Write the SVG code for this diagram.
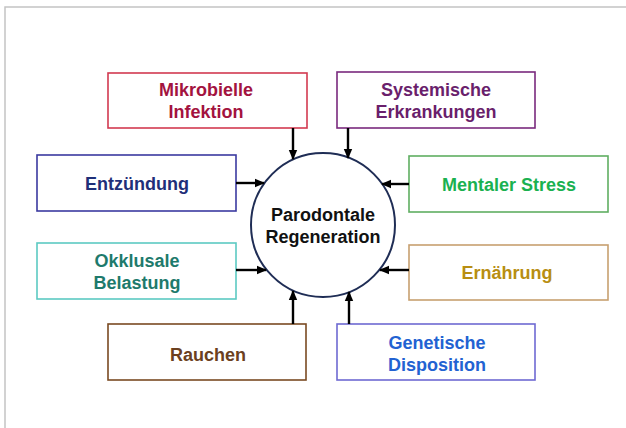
<svg xmlns="http://www.w3.org/2000/svg" width="626" height="428" viewBox="0 0 626 428">
<style>
.box{fill:#fff;stroke-width:1.6}
.t{font-family:"Liberation Sans",Arial,sans-serif;font-weight:bold;font-size:18px;text-anchor:middle}
.c{stroke:#000;stroke-width:2.4;fill:none;marker-end:url(#ah)}
</style>
<defs>
<marker id="ah" markerUnits="userSpaceOnUse" markerWidth="10" markerHeight="10" refX="9" refY="5" orient="auto">
<path d="M0,0.8 L10,5 L0,9.2 z" fill="#000"/>
</marker>
</defs>
<rect width="626" height="428" fill="#fff"/>
<path d="M5,428 V7 H626" fill="none" stroke="#c4c4c4" stroke-width="1.5"/>
<g id="center">
<circle cx="323" cy="225" r="72" fill="#fff" stroke="#1f2d55" stroke-width="2"/>
<text class="t" x="323" y="221" fill="#111">Parodontale</text>
<text class="t" x="323" y="243" fill="#111">Regeneration</text>
</g>
<g id="mikrobielle">
<rect class="box" x="108" y="73" width="199" height="55" stroke="#d23a50"/>
<text class="t" x="206" y="96" fill="#a3133f">Mikrobielle</text>
<text class="t" x="206" y="118" fill="#a3133f">Infektion</text>
</g>
<g id="systemische">
<rect class="box" x="337" y="72" width="198" height="56" stroke="#7a2a7e"/>
<text class="t" x="436" y="96" fill="#6a1f6c">Systemische</text>
<text class="t" x="436" y="118" fill="#6a1f6c">Erkrankungen</text>
</g>
<g id="entzuendung">
<rect class="box" x="37" y="155" width="199" height="56" stroke="#3b3aa0"/>
<text class="t" x="137" y="190" fill="#1f2f78">Entzündung</text>
</g>
<g id="mentaler">
<rect class="box" x="409" y="156" width="199" height="56" stroke="#5fae62"/>
<text class="t" x="509" y="191" fill="#1ab150">Mentaler Stress</text>
</g>
<g id="okklusale">
<rect class="box" x="37" y="243" width="199" height="56" stroke="#5ccac2"/>
<text class="t" x="137" y="266.5" fill="#1e7a6c">Okklusale</text>
<text class="t" x="137" y="288.5" fill="#1e7a6c">Belastung</text>
</g>
<g id="ernaehrung">
<rect class="box" x="409" y="245" width="199" height="55" stroke="#c7a070"/>
<text class="t" x="507" y="279" fill="#b88e12">Ernährung</text>
</g>
<g id="rauchen">
<rect class="box" x="108" y="324" width="198" height="56" stroke="#7a4a22"/>
<text class="t" x="208" y="361" fill="#6b4020">Rauchen</text>
</g>
<g id="genetische">
<rect class="box" x="337" y="324" width="198" height="56" stroke="#6e6ad2"/>
<text class="t" x="437" y="348.5" fill="#2262d2">Genetische</text>
<text class="t" x="437" y="370.5" fill="#2262d2">Disposition</text>
</g>
<g id="connectors">
<line class="c" x1="293" y1="128" x2="293" y2="159"/>
<line class="c" x1="348" y1="128" x2="348" y2="158"/>
<line class="c" x1="236" y1="183" x2="264" y2="183"/>
<line class="c" x1="236" y1="270" x2="266" y2="270"/>
<line class="c" x1="409" y1="184" x2="382" y2="184"/>
<line class="c" x1="409" y1="270" x2="380" y2="270"/>
<line class="c" x1="293" y1="324" x2="293" y2="291"/>
<line class="c" x1="349" y1="324" x2="349" y2="292"/>
</g>
</svg>
